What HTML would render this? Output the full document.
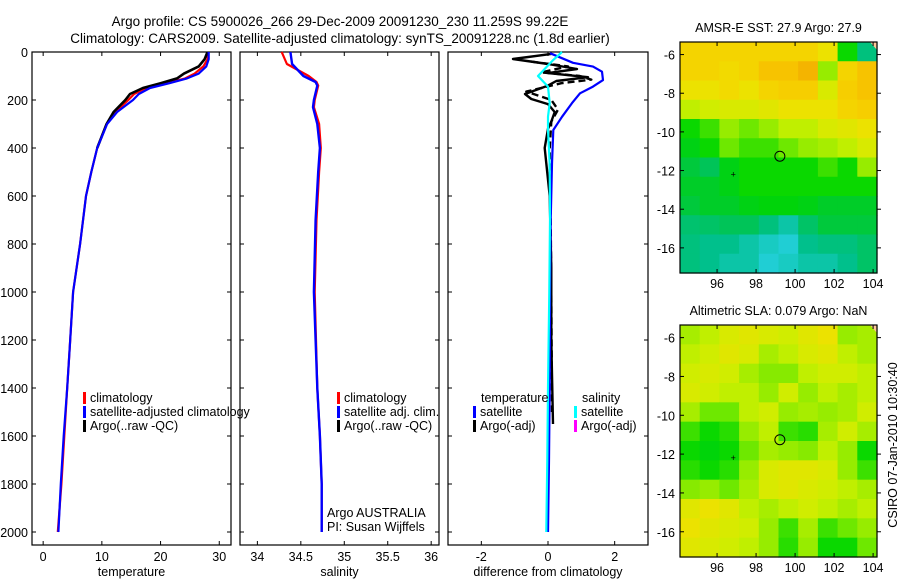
<!DOCTYPE html>
<html><head><meta charset="utf-8">
<style>
html,body{margin:0;padding:0;background:#fff;}
svg{display:block;font-family:"Liberation Sans","DejaVu Sans",sans-serif;}
text{fill:#000;}
</style></head>
<body>
<svg id="fig" width="900" height="580" viewBox="0 0 900 580" xmlns="http://www.w3.org/2000/svg">
<rect x="0" y="0" width="900" height="580" fill="#fff"/>
<text x="340" y="26" font-size="13.5" text-anchor="middle">Argo profile: CS 5900026_266 29-Dec-2009 20091230_230 11.259S 99.22E</text>
<text x="340" y="43" font-size="13.5" text-anchor="middle">Climatology: CARS2009. Satellite-adjusted climatology: synTS_20091228.nc (1.8d earlier)</text>
<g id="plots"></g>
<text transform="translate(897,445) rotate(-90)" font-size="12.5" text-anchor="middle">CSIRO 07-Jan-2010 10:30:40</text>
</svg>
<script>
// ---------- data ----------
const depthTicks = [0,200,400,600,800,1000,1200,1400,1600,1800,2000];
const tempTicks = [0,10,20,30];
const salTicks = [34,34.5,35,35.5,36];
const diffTicks = [-2,0,2];

const tDepth = [0,30,60,90,110,130,150,175,200,250,300,400,500,600,800,1000,1200,1400,1600,1800,2000];
const tempSat = [28.2,28.2,27.8,26.5,24.5,21.5,18.2,16.3,15.3,12.6,10.9,9.2,8.2,7.3,6.3,5.1,4.6,4.1,3.5,3.0,2.6];
const tempClim = [28.0,28.0,27.3,25.8,24.2,21.0,17.5,15.5,14.5,12.3,10.8,9.2,8.2,7.3,6.3,5.1,4.6,4.1,3.6,3.1,2.5];
const argoDepth = [0,30,60,90,110,130,150,175,200,250,300,400];
const tempArgo = [28.0,27.5,26.5,24.0,22.8,20.0,17.0,14.8,14.0,12.0,10.8,9.2];

const sDepth = [0,50,100,125,140,200,230,300,400,500,700,1000,1400,1600,1800,2000];
const salSat = [34.38,34.40,34.53,34.67,34.69,34.65,34.64,34.69,34.72,34.70,34.67,34.65,34.69,34.72,34.74,34.74];
const salClim = [34.28,34.34,34.59,34.68,34.70,34.66,34.65,34.71,34.73,34.71,34.68,34.66,34.69,34.72,34.74,34.74];

const dDepth = [5,45,61,82,117,144,172,213,270,325,464,700,1000,1400,1700,2000];
const diffTempSat = [0.06,0.75,1.35,1.62,1.65,1.35,0.96,0.72,0.42,0.16,0.12,0.08,0.06,0.05,0.03,0.0];
const cDepth = [0,33,100,144,213,270,325,464,700,1000,1400,1700,2000];
const diffSalSat = [0.42,0.16,-0.3,0.0,0.05,0.0,0.0,0.05,0.06,0.04,0.0,-0.02,-0.05];
const aDepth = [8,29,50,71,88,105,121,140,175,196,217,250,290,320,400,600,900,1200,1550];
const diffArgoA = [0.1,-1.05,0.0,0.87,0.0,1.2,0.25,0.0,-0.69,-0.5,0.0,0.2,0.1,0.0,-0.1,0.05,0.1,0.1,0.15];
const bDepth = [40,60,85,100,115,130,165,200,240,290,400,700,1000,1500];
const diffArgoB = [-0.5,0.6,-0.2,0.95,1.3,0.4,-0.65,0.1,0.3,0.1,0.05,0.08,0.1,0.12];

const lonTicks = [96,98,100,102,104];
const latTicks = [-6,-8,-10,-12,-14,-16];
const sstGrid = [
[0.8,0.8,0.8,0.8,0.8,0.8,0.8,0.75,0.45,0.3],
[0.8,0.8,0.78,0.8,0.85,0.85,0.88,0.6,0.8,0.85],
[0.75,0.75,0.78,0.75,0.8,0.82,0.82,0.7,0.82,0.85],
[0.65,0.68,0.7,0.7,0.72,0.75,0.75,0.75,0.8,0.82],
[0.45,0.5,0.6,0.55,0.6,0.65,0.65,0.7,0.72,0.75],
[0.42,0.45,0.55,0.5,0.5,0.55,0.6,0.62,0.65,0.7],
[0.38,0.35,0.42,0.45,0.45,0.45,0.45,0.5,0.45,0.6],
[0.4,0.4,0.42,0.45,0.45,0.45,0.45,0.45,0.45,0.45],
[0.38,0.4,0.4,0.42,0.43,0.43,0.42,0.4,0.4,0.4],
[0.32,0.33,0.35,0.35,0.3,0.25,0.33,0.38,0.38,0.38],
[0.3,0.28,0.28,0.25,0.22,0.2,0.28,0.3,0.3,0.33],
[0.3,0.28,0.25,0.25,0.2,0.22,0.25,0.25,0.28,0.33]];
const slaGrid = [
[0.62,0.65,0.7,0.72,0.7,0.68,0.72,0.75,0.6,0.62],
[0.65,0.68,0.72,0.7,0.62,0.65,0.7,0.72,0.65,0.62],
[0.68,0.7,0.68,0.62,0.58,0.58,0.65,0.68,0.68,0.65],
[0.7,0.68,0.65,0.65,0.6,0.68,0.6,0.65,0.62,0.65],
[0.62,0.55,0.55,0.65,0.68,0.6,0.62,0.6,0.62,0.68],
[0.5,0.45,0.48,0.6,0.65,0.5,0.48,0.62,0.68,0.62],
[0.45,0.43,0.45,0.55,0.62,0.6,0.58,0.65,0.6,0.45],
[0.48,0.45,0.48,0.6,0.7,0.72,0.72,0.7,0.6,0.5],
[0.58,0.6,0.55,0.62,0.7,0.72,0.7,0.68,0.65,0.62],
[0.72,0.75,0.72,0.65,0.62,0.65,0.68,0.65,0.62,0.65],
[0.75,0.72,0.7,0.68,0.6,0.5,0.62,0.5,0.55,0.6],
[0.72,0.7,0.68,0.65,0.6,0.48,0.6,0.45,0.45,0.55]];
const argoLon = 99.22, argoLat = -11.26;

// ---------- helpers ----------
const NS = "http://www.w3.org/2000/svg";
const root = document.getElementById('plots');
function mk(tag, attrs, parent){ const e=document.createElementNS(NS,tag); for(const k in attrs) e.setAttribute(k,attrs[k]); (parent||root).appendChild(e); return e; }
function txt(s, attrs, parent){ const e=mk('text',attrs,parent); e.textContent=s; return e; }

const yTop=52, yPer=0.24, plotBottom=545;
const yD = d => yTop + d*yPer;

function panel(name, x0, x1, vmin, vmax, xticks, fmt, xlabel, showY){
  const sx = v => x0 + (v-vmin)/(vmax-vmin)*(x1-x0);
  const g = mk('g',{});
  
  
  const fr = mk('rect',{x:x0,y:yTop,width:x1-x0,height:plotBottom-yTop,fill:'none',stroke:'#000','stroke-width':1.2},g);
  
  
  depthTicks.forEach(d=>{
    const y=yD(d);
    mk('line',{x1:x0,x2:x0+4,y1:y,y2:y,stroke:'#000'},g);
    mk('line',{x1:x1-4,x2:x1,y1:y,y2:y,stroke:'#000'},g);
    if(showY){ const t=txt(String(d),{x:28,y:y+5,'font-size':12.5,'text-anchor':'end'},g);
      
       }
  });
  xticks.forEach(v=>{
    const x=sx(v);
    mk('line',{x1:x,x2:x,y1:plotBottom,y2:plotBottom-4,stroke:'#000'},g);
    mk('line',{x1:x,x2:x,y1:yTop,y2:yTop+4,stroke:'#000'},g);
    const t=txt(fmt(v),{x:x,y:561,'font-size':12.5,'text-anchor':'middle'},g);
    
    
  });
  const xl=txt(xlabel,{x:(x0+x1)/2,y:576,'font-size':12.5,'text-anchor':'middle'},g);
  
  
  return {g,sx};
}
function line(p, depths, vals, color, w, name, dash){
  const pts = depths.map((d,i)=>p.sx(vals[i]).toFixed(1)+','+yD(d).toFixed(1)).join(' ');
  const a={points:pts,fill:'none',stroke:color,'stroke-width':w,'stroke-linejoin':'round'};
  if(dash) a['stroke-dasharray']=dash;
  const e=mk('polyline',a,p.g);
  
  
}
function legend(g, x, y, color, label, name){
  const r=mk('rect',{x:x,y:y-10,width:3,height:12,fill:color},g);
  
  
  const t=txt(label,{x:x+7,y:y,'font-size':12.5},g);
  
  
}

// temperature panel
const p1 = panel('temperature-panel',32,231,-1.9,32,tempTicks,String,'temperature',true);
line(p1,tDepth,tempClim,'#f00',2.2,'temperature-climatology-line');
line(p1,argoDepth,tempArgo,'#000',2.6,'temperature-argo-line');
line(p1,tDepth,tempSat,'#00f',2.2,'temperature-satellite-line');
legend(p1.g,83,402,'#f00','climatology','legend-climatology');
legend(p1.g,83,416,'#00f','satellite-adjusted climatology','legend-satellite-adjusted');
legend(p1.g,83,430,'#000','Argo(..raw -QC)','legend-argo');

// salinity panel
const p2 = panel('salinity-panel',240,439,33.8,36.09,salTicks,v=>String(v),'salinity',false);
line(p2,sDepth,salClim,'#f00',2.2,'salinity-climatology-line');
line(p2,sDepth,salSat,'#00f',2.4,'salinity-satellite-line');
legend(p2.g,337,402,'#f00','climatology','legend-climatology-sal');
legend(p2.g,337,416,'#00f','satellite adj. clim.','legend-satellite-sal');
legend(p2.g,337,430,'#000','Argo(..raw -QC)','legend-argo-sal');
const t1=txt('Argo AUSTRALIA',{x:327,y:517,'font-size':12.5},p2.g);


const t2=txt('PI: Susan Wijffels',{x:327,y:531,'font-size':12.5},p2.g);



// difference panel
const p3 = panel('difference-panel',448,648,-3,3,diffTicks,v=>String(v),'difference from climatology',false);
line(p3,aDepth,diffArgoA,'#000',2.4,'diff-argo-temp-line');
line(p3,bDepth,diffArgoB,'#000',2.4,'diff-argo-temp-dashed-line','7,4');
line(p3,dDepth,diffTempSat,'#00f',2.2,'diff-temp-satellite-line');
line(p3,cDepth,diffSalSat,'#0ff',2.2,'diff-sal-satellite-line');
const lt=txt('temperature',{x:481,y:402,'font-size':12.5},p3.g);


const ls=txt('salinity',{x:582,y:402,'font-size':12.5},p3.g);


legend(p3.g,473,416,'#00f','satellite','legend-temp-satellite');
legend(p3.g,473,430,'#000','Argo(-adj)','legend-temp-argo');
legend(p3.g,574,416,'#0ff','satellite','legend-sal-satellite');
legend(p3.g,574,430,'#f0f','Argo(-adj)','legend-sal-argo');

// ---------- maps ----------
const stops=[[0.18,[40,210,230]],[0.28,[0,192,140]],[0.36,[0,196,80]],[0.44,[0,214,0]],[0.55,[110,232,0]],[0.66,[200,240,0]],[0.76,[240,224,0]],[0.84,[248,200,0]],[0.92,[240,160,0]]];
function cmap(v){
  if(v<=stops[0][0]) return 'rgb('+stops[0][1]+')';
  for(let i=1;i<stops.length;i++){ if(v<=stops[i][0]){ const a=stops[i-1],b=stops[i],t=(v-a[0])/(b[0]-a[0]);
    return 'rgb('+a[1].map((c,k)=>Math.round(c+(b[1][k]-c)*t)).join(',')+')'; } }
  return 'rgb('+stops[stops.length-1][1]+')';
}
function map(name, title, grid, top, bottom){
  const x0=680,x1=877, lonMin=94.1, lonMax=104.2, latMax=-5.35, latMin=-17.3;
  const sx=l=>x0+(l-lonMin)/(lonMax-lonMin)*(x1-x0);
  const sy=l=>top+(latMax-l)/(latMax-latMin)*(bottom-top);
  const g=mk('g',{});
  
  
  const rows=grid.length, cols=grid[0].length, cw=(x1-x0)/cols, ch=(bottom-top)/rows;
  grid.forEach((row,r)=>row.forEach((v,c)=>{
    const cell=mk('rect',{x:(x0+c*cw).toFixed(2),y:(top+r*ch).toFixed(2),width:(cw+0.6).toFixed(2),height:(ch+0.6).toFixed(2),fill:cmap(v)},g);
    
    
  }));
  mk('polygon',{points:`${x1-7},${top} ${x1},${top} ${x1},${top+8}`,fill:'#ffc89a'},g);
  mk('rect',{x:x0,y:top,width:x1-x0,height:bottom-top,fill:'none',stroke:'#000','stroke-width':1.2},g);
  lonTicks.forEach(l=>{ const x=sx(l);
    mk('line',{x1:x,x2:x,y1:top,y2:top+4,stroke:'#000'},g);
    mk('line',{x1:x,x2:x,y1:bottom,y2:bottom-4,stroke:'#000'},g);
    const t=txt(String(l),{x:x,y:bottom+15,'font-size':12.5,'text-anchor':'middle'},g);
    
    
  });
  latTicks.forEach(l=>{ const y=sy(l);
    mk('line',{x1:x0,x2:x0+4,y1:y,y2:y,stroke:'#000'},g);
    mk('line',{x1:x1,x2:x1+4,y1:y,y2:y,stroke:'#000'},g);
    const t=txt(String(l),{x:675,y:y+5,'font-size':12.5,'text-anchor':'end'},g);
    
    
  });
  const c=mk('circle',{cx:sx(argoLon),cy:sy(argoLat),r:5,fill:'none',stroke:'#000','stroke-width':1},g);
  
  
  mk('text',{x:sx(96.85)-3,y:sy(-12.2)+3,'font-size':9},g).textContent='+';
  const tt=txt(title,{x:(x0+x1)/2,y:top-10,'font-size':12.5,'text-anchor':'middle'},g);
  
  
}
map('sst-map','AMSR-E SST: 27.9 Argo: 27.9',sstGrid,42,273);
map('sla-map','Altimetric SLA: 0.079 Argo: NaN',slaGrid,325,557);
</script>
</body></html>
